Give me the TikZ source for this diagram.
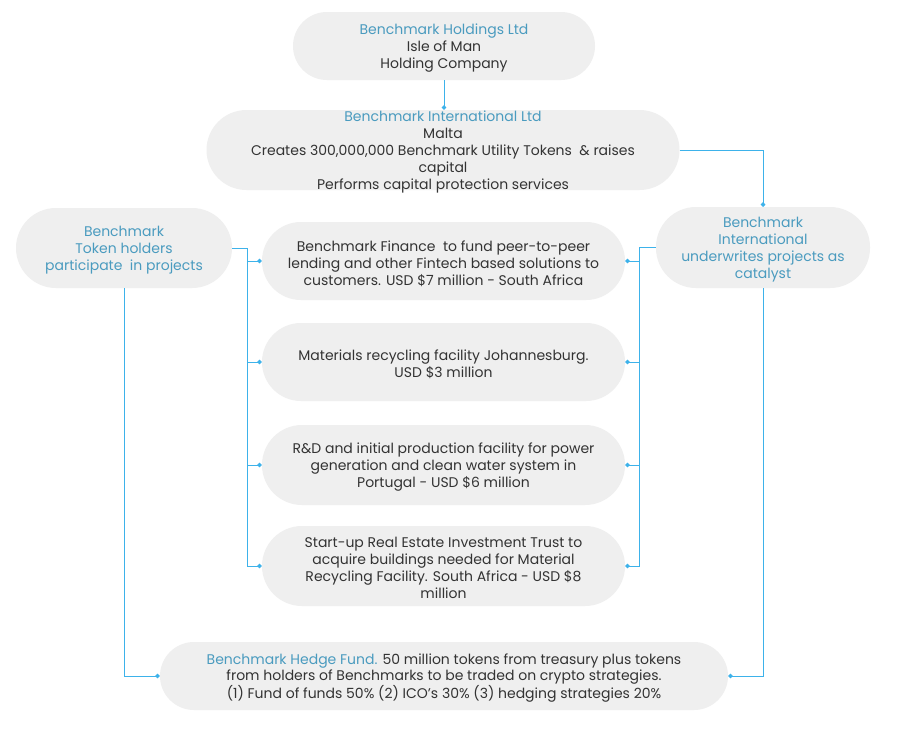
\documentclass[tikz,border=0pt]{standalone}
\usepackage{fontspec}
\setmainfont{Poppins}
\usetikzlibrary{arrows.meta}
\definecolor{boxfill}{HTML}{EFEFEF}
\definecolor{bluetxt}{HTML}{4A9BBF}
\definecolor{darktxt}{HTML}{333333}
\definecolor{linec}{HTML}{3DB2EA}
\newcommand{\tstrut}{\rule{0pt}{15.5pt}}
\newcommand{\hstrut}{\rule{0pt}{14pt}}
\begin{document}
\begin{tikzpicture}[x=1pt,y=-1pt,
  box/.style={fill=boxfill, draw=none, align=center, text=darktxt,
    font=\fontsize{14}{17}\selectfont, inner sep=0pt},
  bluebox/.style={box, text=bluetxt},
  conn/.style={draw=linec, line width=0.9pt, -{Circle[length=4.5pt]}},
  plainline/.style={draw=linec, line width=0.9pt}]
\useasboundingbox[fill=white] (0,0) rectangle (899,739);

\node[box, minimum width=302pt, minimum height=68pt, rounded corners=34pt] (hold) at (444,46)
  {\tstrut\textcolor{bluetxt}{Benchmark Holdings Ltd}\\Isle of Man\\Holding Company};
\node[box, inner ysep=-4pt, minimum width=473pt, minimum height=80pt, rounded corners=40pt] (intl) at (443,150)
  {\tstrut\textcolor{bluetxt}{Benchmark International Ltd}\\Malta\\Creates 300,000,000 Benchmark Utility Tokens~ \& raises\\capital\\Performs capital protection services};
\node[bluebox, minimum width=216pt, minimum height=80pt, rounded corners=40pt] (th) at (124,248)
  {\tstrut Benchmark\\Token holders\\participate~ in projects};
\node[bluebox, minimum width=214pt, minimum height=81pt, rounded corners=40pt] (uw) at (763,247.5)
  {\tstrut Benchmark\\International\\underwrites projects as\\catalyst};
\node[box, minimum width=363pt, minimum height=78pt, rounded corners=39pt] (p1) at (443.5,261)
  {\tstrut Benchmark Finance~ to fund peer-to-peer\\lending and other Fintech based solutions to\\customers. USD \$7 million - South Africa};
\node[box, minimum width=363pt, minimum height=78pt, rounded corners=39pt] (p2) at (443.5,362)
  {\tstrut Materials recycling facility Johannesburg.\\USD \$3 million};
\node[box, minimum width=363pt, minimum height=80pt, rounded corners=40pt] (p3) at (443.5,465)
  {\tstrut R\&D and initial production facility for power\\generation and clean water system in\\Portugal - USD \$6 million};
\node[box, minimum width=363pt, minimum height=80pt, rounded corners=40pt] (p4) at (443.5,566)
  {\hstrut Start-up Real Estate Investment Trust to\\acquire buildings needed for Material\\Recycling Facility. South Africa - USD \$8\\million};
\node[box, font=\fontsize{14}{16}\selectfont, minimum width=568pt, minimum height=68pt, rounded corners=34pt] (hedge) at (444,676)
  {\tstrut\textcolor{bluetxt}{Benchmark Hedge Fund.} 50 million tokens from treasury plus tokens\\from holders of Benchmarks to be traded on crypto strategies.\\(1) Fund of funds 50\% (2) ICO's 30\% (3) hedging strategies 20\%};

% connectors
\draw[conn] (hold.south) -- (hold.south |- intl.north);
\draw[conn] (intl.east) -| (uw.north);

\draw[plainline] (th.east) -- ++(15,0) coordinate (bl) -- (bl |- p4.west);
\foreach \p in {p1,p2,p3,p4}
  \draw[conn] (bl |- \p.west) -- (\p.west);

\draw[plainline] (uw.west) -- ++(-16,0) coordinate (br) -- (br |- p4.east);
\foreach \p in {p1,p2,p3,p4}
  \draw[conn] (br |- \p.east) -- (\p.east);

\draw[conn] (th.south) |- (hedge.west);
\draw[conn] (uw.south) |- (hedge.east);
\end{tikzpicture}
\end{document}
